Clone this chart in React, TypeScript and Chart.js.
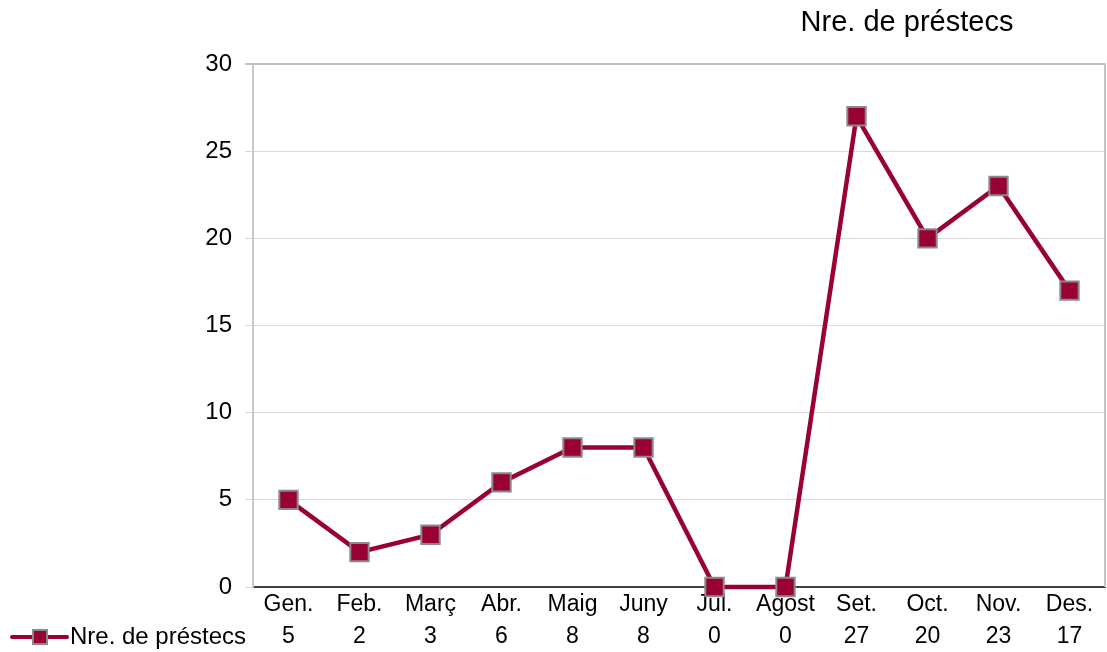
import React, { useEffect, useRef } from "react";
import { Chart, registerables } from "chart.js";

Chart.register(...registerables);

const months = ["Gen.", "Feb.", "Març", "Abr.", "Maig", "Juny", "Jul.", "Agost", "Set.", "Oct.", "Nov.", "Des."];
const loans = [5, 2, 3, 6, 8, 8, 0, 0, 27, 20, 23, 17];
const seriesName = "Nre. de préstecs";
const yTicks = [0, 5, 10, 15, 20, 25, 30];

const FONT = "'Liberation Sans', Arial, sans-serif";
const LINE = "#990033";
const MARKER_BORDER = "#8a8a8a";
const TICK_PAD = 2;
const LINE_H = 32;

const extrasPlugin = {
  id: "extras",
  afterDraw(chart: any) {
    const ctx = chart.ctx;
    const area = chart.chartArea;
    const xs = chart.scales.x;
    ctx.save();
    // right border
    ctx.strokeStyle = "#c4c4c4";
    ctx.lineWidth = 2;
    ctx.beginPath();
    ctx.moveTo(area.right, area.top - 1);
    ctx.lineTo(area.right, area.bottom);
    ctx.stroke();

    // title
    ctx.fillStyle = "#000";
    ctx.font = `29px ${FONT}`;
    ctx.textAlign = "center";
    ctx.textBaseline = "middle";
    ctx.fillText(seriesName, 907, 23);

    // data table legend key
    const yRow = xs.top + TICK_PAD + LINE_H * 1.5;
    ctx.strokeStyle = LINE;
    ctx.lineWidth = 4;
    ctx.lineCap = "round";
    ctx.beginPath();
    ctx.moveTo(12, yRow);
    ctx.lineTo(67, yRow);
    ctx.stroke();
    ctx.fillStyle = LINE;
    ctx.strokeStyle = MARKER_BORDER;
    ctx.lineWidth = 2;
    ctx.fillRect(33, yRow - 7, 14, 14);
    ctx.strokeRect(33, yRow - 7, 14, 14);
    ctx.fillStyle = "#000";
    ctx.font = `24px ${FONT}`;
    ctx.textAlign = "left";
    ctx.fillText(seriesName, 70, yRow);
    ctx.restore();
  },
};

export default function App() {
  const ref = useRef<HTMLCanvasElement>(null);
  useEffect(() => {
    if (!ref.current) return;
    const chart = new Chart(ref.current, {
      type: "line",
      data: {
        labels: months,
        datasets: [
          {
            label: seriesName,
            data: loans,
            borderColor: LINE,
            borderWidth: 4.5,
            backgroundColor: LINE,
            pointStyle: "rect",
            pointRadius: 13,
            pointHoverRadius: 13,
            pointBackgroundColor: LINE,
            pointBorderColor: MARKER_BORDER,
            pointBorderWidth: 2,
            tension: 0,
            clip: false as any,
          },
        ],
      },
      options: {
        responsive: false,
        animation: false,
        layout: { autoPadding: false, padding: { top: 64, right: 2, left: 0, bottom: 0 } },
        plugins: {
          legend: { display: false },
          title: { display: false },
          tooltip: { enabled: false },
        },
        scales: {
          x: {
            type: "category",
            offset: true,
            afterFit: (s: any) => {
              s.height = 65;
              s.paddingLeft = 0;
              s.paddingRight = 0;
            },
            grid: { display: false, drawTicks: false },
            border: { display: true, color: "#404040", width: 2 },
            ticks: {
              padding: TICK_PAD,
              color: "#000",
              maxRotation: 0,
              autoSkip: false,
              font: { family: FONT, size: 23, lineHeight: `${LINE_H}px` as any },
              callback: (_v: any, i: number) => [months[i], String(loans[i])],
            },
          },
          y: {
            min: 0,
            max: 30,
            afterFit: (s: any) => {
              s.width = 253;
              s.paddingTop = 0;
              s.paddingBottom = 0;
            },
            afterBuildTicks: (s: any) => {
              s.ticks = yTicks.map((v) => ({ value: v }));
            },
            grid: {
              color: (c: any) => (c.tick && c.tick.value === 30 ? "#c0c0c0" : "#d9d9d9"),
              lineWidth: (c: any) => (c.tick && c.tick.value === 30 ? 2 : 1),
              tickLength: 8,
              drawTicks: true,
            },
            border: { display: true, color: "#c8c8c8", width: 2 },
            ticks: {
              padding: 13,
              color: "#000",
              font: { family: FONT, size: 24 },
            },
          },
        },
      },
      plugins: [extrasPlugin],
    });
    return () => chart.destroy();
  }, []);
  return (
    <div style={{ position: "fixed", left: 0, top: 0, width: 1107, height: 652, background: "#fff" }}>
      <canvas ref={ref} width={1107} height={652} style={{ display: "block" }} />
    </div>
  );
}
